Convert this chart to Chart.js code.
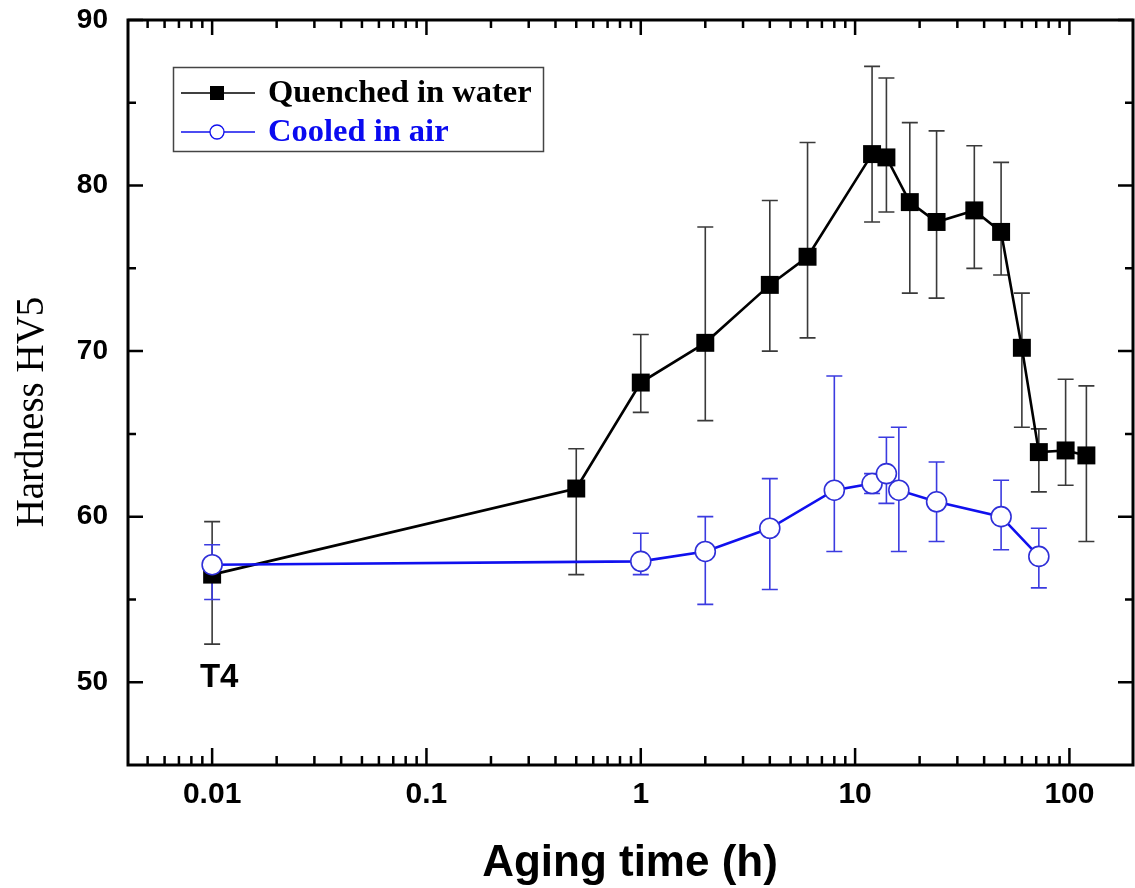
<!DOCTYPE html>
<html lang="en">
<head>
<meta charset="UTF-8">
<title>Hardness vs aging time</title>
<script src="https://cdn.jsdelivr.net/npm/chart.js"></script>
<style>
  html, body { margin: 0; padding: 0; background: #fff; }
  #wrap { width: 1135px; height: 888px; }
</style>
</head>
<body>
<div id="wrap"><canvas id="hvChart" width="1135" height="888"></canvas></div>
<script>
  // aging time in hours, 0.01 h is the as-solutionised T4 state
  const waterTimes = [0.01, 0.5, 1, 2, 4, 6, 12, 14, 18, 24, 36, 48, 60, 72, 96, 120];
  const waterHV    = [56.5, 61.7, 68.1, 70.5, 74.0, 75.7, 81.9, 81.7, 79.0, 77.8, 78.5, 77.2, 70.2, 63.9, 64.0, 63.7];
  const waterHi    = [59.7, 64.1, 71.0, 77.5, 79.1, 82.6, 87.2, 86.5, 83.8, 83.3, 82.4, 81.4, 73.5, 65.3, 68.3, 67.9];
  const waterLo    = [52.3, 56.5, 66.3, 65.8, 70.0, 70.8, 77.8, 78.4, 73.5, 73.2, 75.0, 74.6, 65.4, 61.5, 61.9, 58.5];

  const airTimes = [0.01, 1, 2, 4, 8, 12, 14, 16, 24, 48, 72];
  const airHV    = [57.1, 57.3, 57.9, 59.3, 61.6, 62.0, 62.6, 61.6, 60.9, 60.0, 57.6];
  const airHi    = [58.3, 59.0, 60.0, 62.3, 68.5, 62.6, 64.8, 65.4, 63.3, 62.2, 59.3];
  const airLo    = [55.0, 56.5, 54.7, 55.6, 57.9, 61.4, 60.8, 57.9, 58.5, 58.0, 55.7];

  const xTicks = [0.01, 0.1, 1, 10, 100];
  const yTicks = [50, 60, 70, 80, 90];
  const yMinor = [55, 65, 75, 85];

  const SANS = 'Arial, "Liberation Sans", sans-serif';
  const SERIF = '"Times New Roman", "Liberation Serif", serif';

  function toPoints(xs, ys) {
    return xs.map((t, i) => ({ x: t, y: ys[i] }));
  }

  // minor log ticks 2..9 of every decade inside the axis range
  function logMinors(min, max) {
    const out = [];
    for (let d = -3; d <= 2; d++) {
      for (let k = 2; k <= 9; k++) {
        const v = k * Math.pow(10, d);
        if (v > min && v < max) out.push(v);
      }
    }
    return out;
  }

  // keep the plot box fixed: no extra room for overflowing tick labels
  function noLabelPadding(s) {
    s.paddingTop = 0;
    s.paddingBottom = 0;
    s.paddingLeft = 0;
    s.paddingRight = 0;
  }

  // vertical error bars with caps, drawn under the markers
  const errorBars = {
    id: 'errorBars',
    beforeDatasetsDraw(chart) {
      const { ctx, scales: { x, y } } = chart;
      chart.data.datasets.forEach(ds => {
        ctx.save();
        ctx.strokeStyle = ds.errColor;
        ctx.lineWidth = 1.6;
        ds.data.forEach((p, i) => {
          const px = x.getPixelForValue(p.x);
          const top = y.getPixelForValue(ds.hi[i]);
          const bot = y.getPixelForValue(ds.lo[i]);
          ctx.beginPath();
          ctx.moveTo(px, top); ctx.lineTo(px, bot);
          ctx.moveTo(px - 8, top); ctx.lineTo(px + 8, top);
          ctx.moveTo(px - 8, bot); ctx.lineTo(px + 8, bot);
          ctx.stroke();
        });
        ctx.restore();
      });
    }
  };

  // closed frame with inward ticks on all four sides, titles, legend box
  const frame = {
    id: 'frame',
    afterDraw(chart) {
      const { ctx, chartArea: a, scales: { x, y } } = chart;
      ctx.save();
      ctx.strokeStyle = '#000';
      ctx.lineWidth = 3;
      ctx.strokeRect(a.left, a.top, a.right - a.left, a.bottom - a.top);

      ctx.lineWidth = 2.5;
      ctx.beginPath();
      xTicks.forEach(v => {
        const px = x.getPixelForValue(v);
        ctx.moveTo(px, a.bottom); ctx.lineTo(px, a.bottom - 17);
        ctx.moveTo(px, a.top); ctx.lineTo(px, a.top + 15);
      });
      logMinors(x.min, x.max).forEach(v => {
        const px = x.getPixelForValue(v);
        ctx.moveTo(px, a.bottom); ctx.lineTo(px, a.bottom - 9);
        ctx.moveTo(px, a.top); ctx.lineTo(px, a.top + 8);
      });
      yTicks.forEach(v => {
        const py = y.getPixelForValue(v);
        ctx.moveTo(a.left, py); ctx.lineTo(a.left + 15, py);
        ctx.moveTo(a.right, py); ctx.lineTo(a.right - 15, py);
      });
      yMinor.forEach(v => {
        const py = y.getPixelForValue(v);
        ctx.moveTo(a.left, py); ctx.lineTo(a.left + 8, py);
        ctx.moveTo(a.right, py); ctx.lineTo(a.right - 8, py);
      });
      ctx.stroke();

      // axis titles
      ctx.fillStyle = '#000';
      ctx.font = 'bold 44px ' + SANS;
      ctx.textAlign = 'center';
      ctx.textBaseline = 'alphabetic';
      ctx.fillText('Aging time (h)', 630, 876);

      ctx.save();
      ctx.translate(33, 412);
      ctx.rotate(-Math.PI / 2);
      ctx.font = '39px ' + SERIF;
      ctx.textBaseline = 'middle';
      ctx.fillText('Hardness HV5', 0, 0);
      ctx.restore();

      // T4 marker label under the first point
      ctx.font = 'bold 33px ' + SANS;
      ctx.textBaseline = 'middle';
      ctx.fillText('T4', x.getPixelForValue(waterTimes[0]) + 7, 678);

      // legend
      ctx.lineWidth = 1.5;
      ctx.strokeStyle = '#444';
      ctx.strokeRect(173.5, 67.5, 370, 84);
      const rows = [chart.data.datasets[0], chart.data.datasets[1]];
      rows.forEach((ds, i) => {
        const cy = 93 + i * 39;
        ctx.strokeStyle = ds.borderColor;
        ctx.lineWidth = 1.3;
        ctx.beginPath();
        ctx.moveTo(181, cy); ctx.lineTo(255, cy);
        ctx.stroke();
        if (ds.pointStyle === 'rect') {
          ctx.fillStyle = '#000';
          ctx.fillRect(210, cy - 7, 14, 14);
        } else {
          ctx.beginPath();
          ctx.arc(217, cy, 7, 0, Math.PI * 2);
          ctx.fillStyle = '#fff';
          ctx.fill();
          ctx.lineWidth = 1.3;
          ctx.stroke();
        }
        ctx.fillStyle = ds.legendColor;
        ctx.font = 'bold 32.5px ' + SERIF;
        ctx.textAlign = 'left';
        ctx.textBaseline = 'alphabetic';
        ctx.fillText(ds.label, 268, cy + 9);
      });
      ctx.restore();
    }
  };

  new Chart(document.getElementById('hvChart'), {
    type: 'line',
    data: {
      datasets: [
        {
          label: 'Quenched in water',
          data: toPoints(waterTimes, waterHV),
          hi: waterHi, lo: waterLo,
          errColor: '#3a3a3a',
          legendColor: '#000',
          borderColor: '#000',
          borderWidth: 2.6,
          pointStyle: 'rect',
          pointRadius: 12.7,
          pointBackgroundColor: '#000',
          pointBorderWidth: 0,
          order: 1
        },
        {
          label: 'Cooled in air',
          data: toPoints(airTimes, airHV),
          hi: airHi, lo: airLo,
          errColor: '#3b3be0',
          legendColor: '#0a0af0',
          borderColor: '#1010ee',
          borderWidth: 2.6,
          pointStyle: 'circle',
          pointRadius: 10,
          pointBackgroundColor: '#fff',
          pointBorderColor: '#2f2fd8',
          pointBorderWidth: 1.6,
          order: 0
        }
      ]
    },
    options: {
      responsive: false,
      animation: false,
      layout: { autoPadding: false, padding: { top: 20, right: 2, bottom: 0, left: 0 } },
      plugins: { legend: { display: false }, tooltip: { enabled: false } },
      scales: {
        x: {
          type: 'logarithmic',
          min: 0.00405,
          max: 198,
          afterBuildTicks: s => { s.ticks = xTicks.map(v => ({ value: v })); },
          afterFit: s => { s.height = 123; noLabelPadding(s); },
          grid: { display: false, drawTicks: false },
          border: { display: false },
          ticks: {
            color: '#000',
            autoSkip: false,
            maxRotation: 0,
            padding: 12,
            font: { family: SANS, size: 30, weight: 'bold' },
            callback: v => String(v)
          }
        },
        y: {
          min: 45,
          max: 90,
          afterBuildTicks: s => { s.ticks = yTicks.map(v => ({ value: v })); },
          afterFit: s => { s.width = 128; noLabelPadding(s); },
          grid: { display: false, drawTicks: false },
          border: { display: false },
          ticks: {
            color: '#000',
            padding: 20,
            font: { family: SANS, size: 28, weight: 'bold' }
          }
        }
      }
    },
    plugins: [errorBars, frame]
  });
</script>
</body>
</html>
